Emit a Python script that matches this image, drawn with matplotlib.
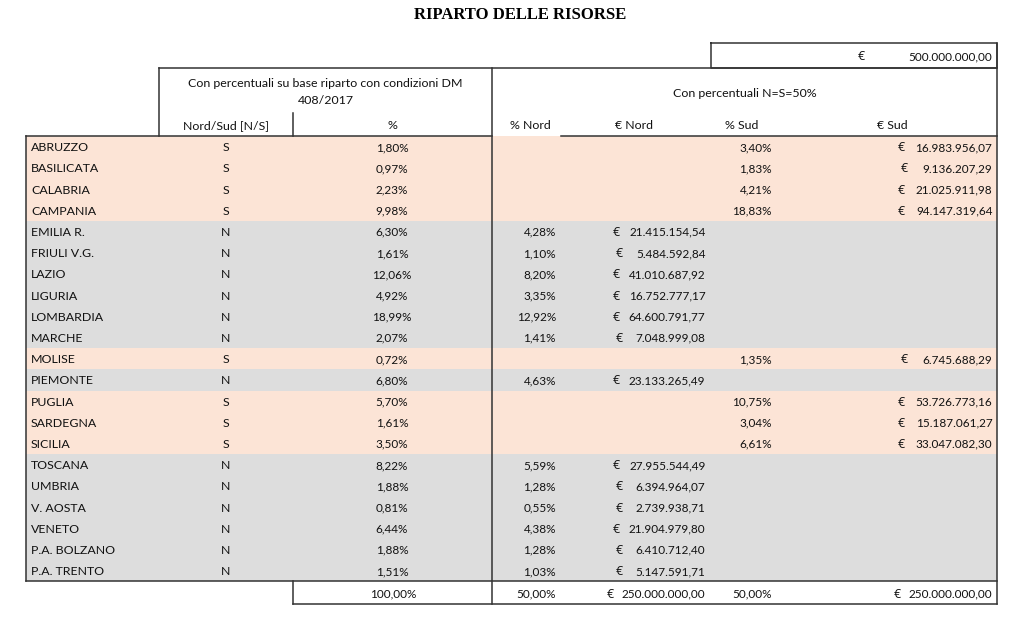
import matplotlib
matplotlib.use("Agg")
import matplotlib.pyplot as plt

# ---------------- data ----------------
title = "RIPARTO DELLE RISORSE"
total_budget = 500000000.00

regions = ["ABRUZZO", "BASILICATA", "CALABRIA", "CAMPANIA", "EMILIA R.", "FRIULI V.G.",
           "LAZIO", "LIGURIA", "LOMBARDIA", "MARCHE", "MOLISE", "PIEMONTE", "PUGLIA",
           "SARDEGNA", "SICILIA", "TOSCANA", "UMBRIA", "V. AOSTA", "VENETO",
           "P.A. BOLZANO", "P.A. TRENTO"]
zone = ["S", "S", "S", "S", "N", "N", "N", "N", "N", "N", "S", "N", "S", "S", "S",
        "N", "N", "N", "N", "N", "N"]
pct = [1.80, 0.97, 2.23, 9.98, 6.30, 1.61, 12.06, 4.92, 18.99, 2.07, 0.72, 6.80, 5.70,
       1.61, 3.50, 8.22, 1.88, 0.81, 6.44, 1.88, 1.51]
pct_nord = [None, None, None, None, 4.28, 1.10, 8.20, 3.35, 12.92, 1.41, None, 4.63,
            None, None, None, 5.59, 1.28, 0.55, 4.38, 1.28, 1.03]
eur_nord = [None, None, None, None, 21415154.54, 5484592.84, 41010687.92, 16752777.17,
            64600791.77, 7048999.08, None, 23133265.49, None, None, None, 27955544.49,
            6394964.07, 2739938.71, 21904979.80, 6410712.40, 5147591.71]
pct_sud = [3.40, 1.83, 4.21, 18.83, None, None, None, None, None, None, 1.35, None,
           10.75, 3.04, 6.61, None, None, None, None, None, None]
eur_sud = [16983956.07, 9136207.29, 21025911.98, 94147319.64, None, None, None, None,
           None, None, 6745688.29, None, 53726773.16, 15187061.27, 33047082.30, None,
           None, None, None, None, None]
tot_pct = 100.00
tot_pct_nord = 50.00
tot_eur_nord = 250000000.00
tot_pct_sud = 50.00
tot_eur_sud = 250000000.00

header_left = ["Con percentuali su base riparto con condizioni DM", "408/2017"]
header_right = "Con percentuali N=S=50%"
col_labels = ["Nord/Sud [N/S]", "%", "% Nord", "€ Nord", "% Sud", "€ Sud"]

# ---------------- helpers ----------------
def fmt_num(v):
    s = f"{v:,.2f}"
    return s.replace(",", "X").replace(".", ",").replace("X", ".")

def fmt_pct(v):
    return f"{v:.2f}%".replace(".", ",")

# ---------------- layout ----------------
FONT = ["Lato", "DejaVu Sans"]
EURO_FONT = ["Open Sans", "DejaVu Sans"]
FS = 8.9
FSN = 8.5
TC = "#111111"
LC = "#333333"
LW = 1.1
PEACH = "#fce4d6"
GRAY = "#dddddd"
BASE = 4.3  # baseline offset from row centre (pixels)

fig = plt.figure(figsize=(10.24, 6.19), dpi=100)
ax = fig.add_axes([0, 0, 1, 1])
ax.set_xlim(0, 1024)
ax.set_ylim(619, 0)
ax.axis("off")


def txt(x, y, s, ha="left", fam=None, size=None):
    ax.text(x, y + BASE, s, ha=ha, va="baseline", fontsize=size or FS,
            family=fam or FONT, color=TC)


def num(x, y, s, ha="right"):
    txt(x, y, s, ha=ha, size=FSN)


def euro(x, y):
    txt(x, y, "€", fam=EURO_FONT)


x_left, x_mid, x_right = 26, 492, 997.3
x_hdr_left, x_ns_right = 159, 293.3
row_top, row_h = 136.2, 21.2
n = len(regions)
row_y = [row_top + row_h * (i + 0.5) for i in range(n)]
row_bottom = row_top + row_h * n
tot_bottom = 604.3

# row fills
colors = [PEACH if z == "S" else GRAY for z in zone]
ax.barh(row_y, x_right - x_left, left=x_left, height=row_h, color=colors, linewidth=0)

# title
ax.text(520, 15, title, ha="center", va="center", fontsize=12, fontweight="bold",
        family=["Liberation Serif", "DejaVu Serif"], color="black")

# top total box
ax.plot([710.6, x_right, x_right, 710.6, 710.6], [43.4, 43.4, 67.7, 67.7, 43.4],
        color=LC, lw=LW)
euro(858, 56)
num(992.4, 56, fmt_num(total_budget))

# header block lines
ax.plot([x_hdr_left, x_right], [67.7, 67.7], color=LC, lw=LW)
ax.plot([x_hdr_left, x_hdr_left], [67.7, row_top], color=LC, lw=LW)
ax.plot([x_ns_right, x_ns_right], [113.3, row_top], color=LC, lw=LW)
ax.plot([x_mid, x_mid], [67.7, tot_bottom], color=LC, lw=LW)
ax.plot([x_right, x_right], [43.4, tot_bottom], color=LC, lw=LW)

# data border
ax.plot([x_left, x_mid], [row_top, row_top], color=LC, lw=LW)
ax.plot([560.8, x_right], [row_top, row_top], color=LC, lw=LW)
ax.plot([x_left, x_left], [row_top, row_bottom], color=LC, lw=LW)
ax.plot([x_left, x_right], [row_bottom, row_bottom], color=LC, lw=LW)

# total box
ax.plot([x_ns_right, x_ns_right], [row_bottom, tot_bottom], color=LC, lw=LW)
ax.plot([x_ns_right, x_right], [tot_bottom, tot_bottom], color=LC, lw=LW)

# header texts
txt(325.5, 82.7, header_left[0], ha="center")
txt(325.5, 99.3, header_left[1], ha="center")
txt(744.5, 92.7, header_right, ha="center")
hdr_x = [226, 392.5, 530.4, 634.3, 741.4, 892.2]
for lx, lab in zip(hdr_x, col_labels):
    txt(lx, 125, lab, ha="center")

# data rows
for i in range(n):
    y = row_y[i]
    txt(31, y, regions[i])
    txt(226, y, zone[i], ha="center")
    num(392, y, fmt_pct(pct[i]), ha="center")
    if pct_nord[i] is not None:
        num(556, y, fmt_pct(pct_nord[i]))
    if eur_nord[i] is not None:
        s = fmt_num(eur_nord[i])
        euro(612.5 if len(s) > 12 else 616, y)
        num(705.4, y, s)
    if pct_sud[i] is not None:
        num(772, y, fmt_pct(pct_sud[i]))
    if eur_sud[i] is not None:
        s = fmt_num(eur_sud[i])
        euro(897.5 if len(s) > 12 else 901, y)
        num(992.4, y, s)

# totals
ty = 593.3
num(393, ty, fmt_pct(tot_pct), ha="center")
num(556, ty, fmt_pct(tot_pct_nord))
euro(606.5, ty)
num(705.4, ty, fmt_num(tot_eur_nord))
num(772, ty, fmt_pct(tot_pct_sud))
euro(893.5, ty)
num(992.4, ty, fmt_num(tot_eur_sud))

fig.savefig("out.png", dpi=100)
